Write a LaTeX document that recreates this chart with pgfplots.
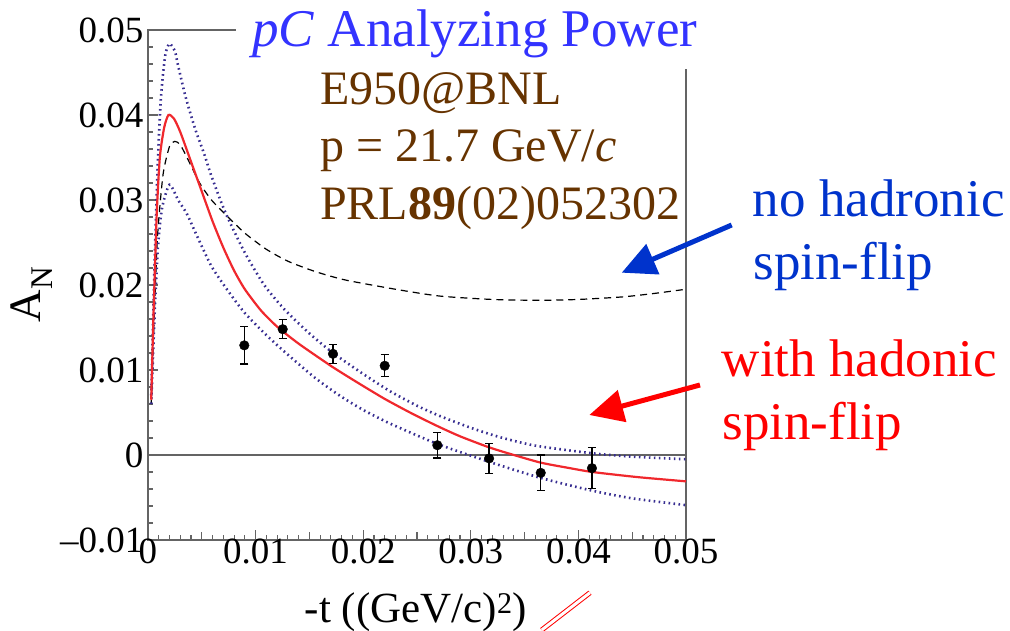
\documentclass[border=0pt]{standalone}
\usepackage{pgfplots}
\pgfplotsset{compat=1.18}
\usepackage{pgfplotstable}
\usepackage{fontspec}
\setmainfont{Liberation Serif}
\usetikzlibrary{arrows.meta}
\definecolor{axgray}{RGB}{100,100,100}
\definecolor{dotblue}{RGB}{55,45,145}
\definecolor{titleblue}{RGB}{51,51,255}
\definecolor{txtbrown}{RGB}{102,51,0}
\definecolor{noblue}{RGB}{0,51,204}
\definecolor{curvered}{RGB}{240,40,45}

\pgfplotstableread{
t a e
0.00895 0.0129 0.0022
0.01252 0.0148 0.0011
0.01719 0.0119 0.0011
0.0220 0.0105 0.0013
0.02689 0.00115 0.0015
0.0317 -0.0004 0.0018
0.0365 -0.0021 0.0021
0.04126 -0.00155 0.0024
}\datapts

\pgfplotstableread{
t a
0.0003 0.0065
0.0005 0.016
0.0008 0.028
0.0011 0.035
0.0015 0.0385
0.0019 0.0400
0.0024 0.0396
0.0030 0.0380
0.0040 0.0345
0.0050 0.0310
0.0060 0.0275
0.0070 0.0244
0.0080 0.0217
0.0090 0.0195
0.0105 0.0170
0.0120 0.0151
0.0140 0.0131
0.0171 0.0104
0.0195 0.0085
0.0220 0.0066
0.0245 0.0049
0.0269 0.0034
0.0290 0.0022
0.0317 0.0009
0.0340 0.0000
0.0365 -0.0009
0.0390 -0.0015
0.0413 -0.0020
0.0455 -0.0026
0.0500 -0.0031
}\withflip

\pgfplotstableread{
t a
0.0003 0.007
0.0006 0.022
0.0009 0.034
0.0012 0.042
0.0016 0.0470
0.0020 0.0484
0.0025 0.0475
0.0028 0.0458
0.0035 0.0421
0.0044 0.0383
0.0052 0.0355
0.0059 0.0328
0.0072 0.0285
0.0090 0.0238
0.0108 0.0200
0.0127 0.0171
0.0150 0.0143
0.0171 0.0121
0.0198 0.0097
0.0225 0.0075
0.0250 0.0058
0.0271 0.0046
0.0300 0.0032
0.0327 0.0021
0.0360 0.0011
0.0413 0.0002
0.0450 -0.0002
0.0500 -0.0005
}\upperband

\pgfplotstableread{
t a
0.0003 0.006
0.0006 0.016
0.0009 0.024
0.0013 0.029
0.0020 0.0318
0.0028 0.0300
0.0036 0.0284
0.0044 0.0262
0.0059 0.0222
0.0075 0.0192
0.0090 0.0167
0.0110 0.0141
0.0130 0.0118
0.0155 0.0091
0.0178 0.0070
0.0200 0.0053
0.0225 0.0037
0.0269 0.0013
0.0317 -0.0008
0.0365 -0.0027
0.0413 -0.0042
0.0450 -0.0051
0.0500 -0.0059
}\lowerband

\pgfplotstableread{
t a
0.0003 0.006
0.0006 0.017
0.0009 0.026
0.0014 0.033
0.0020 0.0363
0.0025 0.0369
0.0030 0.0365
0.0037 0.0348
0.0048 0.0320
0.0059 0.0300
0.0072 0.0283
0.0090 0.0261
0.0110 0.0242
0.0130 0.0228
0.0155 0.0216
0.0183 0.0206
0.0230 0.0195
0.0271 0.0187
0.0320 0.0183
0.0364 0.0182
0.0400 0.0183
0.0441 0.0186
0.0470 0.0190
0.0500 0.0195
}\noflip

\begin{document}
\begin{tikzpicture}
\useasboundingbox (-148bp,-91bp) rectangle (862bp,540bp);
\begin{axis}[
  scale only axis, width=538bp, height=510bp,
  xmin=0, xmax=0.05, ymin=-0.01, ymax=0.05,
  axis line style={axgray, line width=1.3bp},
  tick style={axgray, line width=1.1bp},
  tick align=inside, xtick pos=bottom, ytick pos=left,
  xtick={0,0.01,0.02,0.03,0.04,0.05},
  xticklabels={0,0.01,0.02,0.03,0.04,0.05},
  ytick={-0.01,0,0.01,0.02,0.03,0.04,0.05},
  yticklabels={–0.01,0,0.01,0.02,0.03,0.04,0.05},
  scaled ticks=false,
  minor x tick num=9, minor y tick num=4,
  major tick length=10bp, minor tick length=5.5bp,
  extra x ticks={0.005,0.015,0.025,0.035,0.045},
  extra x tick labels={},
  extra x tick style={major tick length=8bp},
  every tick label/.append style={font=\fontsize{37bp}{42bp}\selectfont},
  xticklabel style={yshift=5bp},
  yticklabel style={xshift=-1bp},
  xlabel={-t ((GeV/c)\textsuperscript{2})},
  xlabel style={at={(axis description cs:0.498,-0.161)}, anchor=base, font=\fontsize{43bp}{48bp}\selectfont},
  ylabel={A\textsubscript{N}},
  ylabel style={at={(axis description cs:-0.217,0.482)}, anchor=center, font=\fontsize{45bp}{50bp}\selectfont},
]
\addplot[axgray, line width=1.2bp, forget plot] coordinates {(0,0) (0.05,0)};
\addplot[black, line width=1.2bp, dash pattern=on 7bp off 5bp, smooth, tension=0.4] table[x=t,y=a] {\noflip};
\addplot[dotblue, line width=2.6bp, dash pattern=on 1.6bp off 3.4bp, smooth, tension=0.4] table[x=t,y=a] {\upperband};
\addplot[dotblue, line width=2.6bp, dash pattern=on 1.6bp off 3.4bp, smooth, tension=0.4] table[x=t,y=a] {\lowerband};
\addplot[curvered, line width=2.2bp, smooth, tension=0.4] table[x=t,y=a] {\withflip};
\addplot[black, only marks, mark=*, mark size=4.8bp, mark options={fill=black},
  error bars/.cd, y dir=both, y explicit,
  error bar style={line width=1.2bp, black},
  error mark=|,
  error mark options={line width=1.2bp, mark size=4bp, black}]
  table[x=t, y=a, y error=e] {\datapts};
\end{axis}
\fill[white] (88bp,471bp) rectangle (560bp,516bp);
\node[anchor=base west, inner sep=0, text=titleblue, font=\fontsize{53bp}{60bp}\selectfont] at (104bp,493bp) {\textit{pC} Analyzing Power};
\node[anchor=base west, inner sep=0, text=txtbrown, font=\fontsize{48bp}{55bp}\selectfont] at (172bp,435bp) {E950@BNL};
\node[anchor=base west, inner sep=0, text=txtbrown, font=\fontsize{48bp}{55bp}\selectfont] at (172bp,378.3bp) {p = 21.7 GeV/\textit{c}};
\node[anchor=base west, inner sep=0, text=txtbrown, font=\fontsize{48bp}{55bp}\selectfont] at (172bp,320bp) {PRL\textbf{89}(02)052302};
\node[anchor=base west, inner sep=0, text=noblue, font=\fontsize{53bp}{60bp}\selectfont] at (604.7bp,323.3bp) {no hadronic};
\node[anchor=base west, inner sep=0, text=noblue, font=\fontsize{53bp}{60bp}\selectfont] at (605.3bp,260bp) {spin-flip};
\node[anchor=base west, inner sep=0, text=red, font=\fontsize{53bp}{60bp}\selectfont] at (573.7bp,163.3bp) {with hadonic};
\node[anchor=base west, inner sep=0, text=red, font=\fontsize{53bp}{60bp}\selectfont] at (574.3bp,100bp) {spin-flip};
\draw[noblue, line width=5bp, -{Triangle[length=34bp, width=32bp]}] (583.7bp,315bp) -- (473.7bp,267.3bp);
\draw[red, line width=5bp, -{Triangle[length=34bp, width=32bp]}] (552bp,155bp) -- (441.3bp,125bp);
\draw[red, line width=1bp, double=white, double distance=3bp] (393.7bp,-90bp) -- (442bp,-52.7bp);
\end{tikzpicture}
\end{document}
